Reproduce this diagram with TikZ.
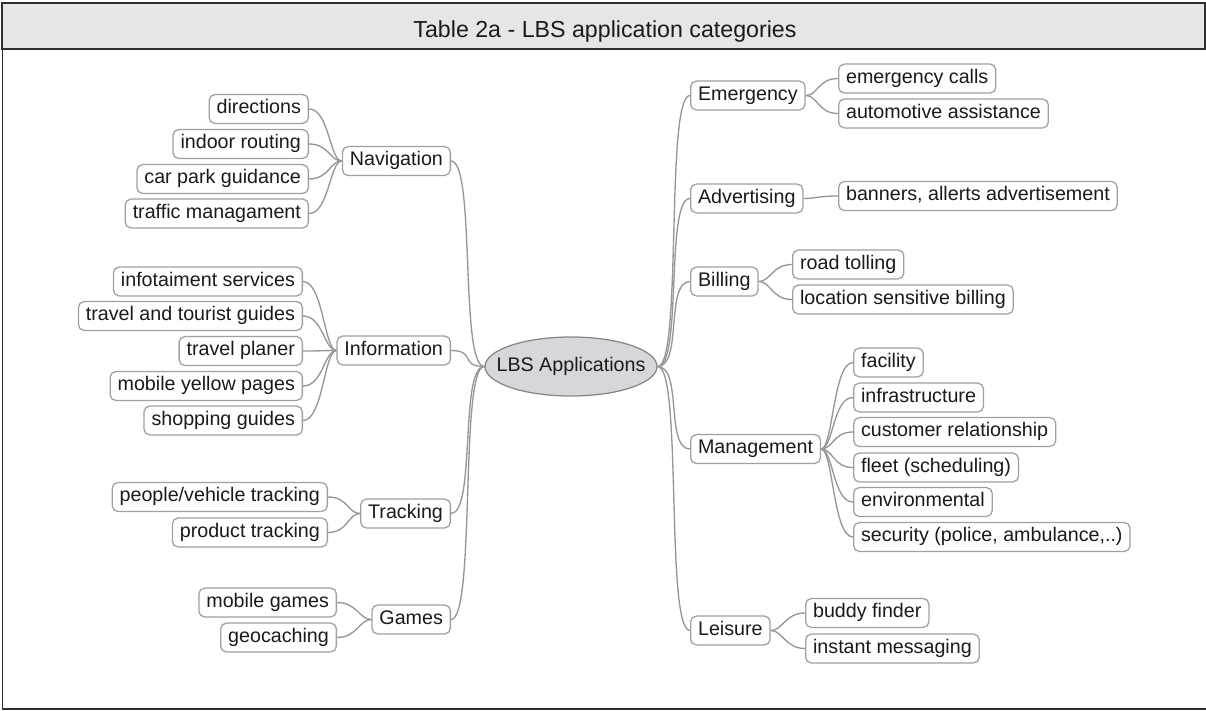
\documentclass[tikz,border=0pt]{standalone}
\usepackage{fontspec}
\setmainfont{Liberation Sans}
\usepackage{xcolor}
\usepackage{tikz}
\usetikzlibrary{positioning,shapes.geometric}

\definecolor{edgegray}{HTML}{969696}
\definecolor{boxgray}{HTML}{A0A0A0}
\definecolor{headfill}{HTML}{E6E6E6}
\definecolor{rootfill}{HTML}{D9D6DB}
\definecolor{inkgray}{HTML}{1A1A1A}
\definecolor{framegray}{HTML}{303030}

\begin{document}
\begin{tikzpicture}[x=0.025cm, y=-0.025cm,
		topic/.style={draw=boxgray, line width=0.9pt, rounded corners=4pt, fill=white, text=inkgray,
			font=\fontsize{14}{16}\selectfont, inner xsep=5.3pt, inner ysep=0pt,
			minimum height=20.5pt, text height=10pt, text depth=3.6pt},
		leftleaf/.style={topic, anchor=east},
		rightleaf/.style={topic, anchor=west},
		rootnode/.style={ellipse, draw=edgegray!90!black, line width=0.9pt, fill=rootfill,
			minimum width=4.3cm, minimum height=1.475cm, inner sep=0pt},
		rootlabel/.style={text=inkgray, font=\fontsize{14}{16}\selectfont, inner sep=0pt},
		link/.style={draw=edgegray, line width=0.95pt},
		frameline/.style={draw=framegray, line width=1.1pt}]
					\useasboundingbox (0,0) rectangle (1206,711);

					% header and frame
					\draw[frameline, fill=headfill] (2,3) rectangle (1205,49);
					\node[anchor=base, inner sep=0, text=inkgray, font=\fontsize{16.5}{20}\selectfont] (title) at (605,37) {Table 2a - LBS application categories};
					\draw[frameline] (2.5,49) -- (2.5,709) -- (1206,709);

					% centre
					\node[rootnode, label={[rootlabel]center:LBS Applications}] (root) at (571,366.5) {};

					% left branches
					\node[leftleaf] (nav) at (451,161) {Navigation};
					\node[leftleaf] (info) at (451,350.5) {Information};
					\node[leftleaf] (track) at (451,513.5) {Tracking};
					\node[leftleaf] (games) at (451,619.5) {Games};

					\node[leftleaf] (dirs) at (309,109) {directions};
					\node[leftleaf] (indoor) at (309,144) {indoor routing};
					\node[leftleaf] (carpark) at (309,179) {car park guidance};
					\node[leftleaf] (traffic) at (309,213.5) {traffic managament};

					\node[leftleaf] (infotain) at (303,281.5) {infotaiment services};
					\node[leftleaf] (travel) at (303,316) {travel and tourist guides};
					\node[leftleaf] (planer) at (303,351) {travel planer};
					\node[leftleaf] (yellow) at (303,386) {mobile yellow pages};
					\node[leftleaf] (shop) at (303,420.5) {shopping guides};

					\node[leftleaf] (people) at (328,497) {people/vehicle tracking};
					\node[leftleaf] (product) at (328,532.5) {product tracking};

					\node[leftleaf] (mgames) at (337,602.5) {mobile games};
					\node[leftleaf] (geo) at (337,637.5) {geocaching};

					% right branches
					\node[rightleaf] (emerg) at (690,95.5) {Emergency};
					\node[rightleaf] (advert) at (690,198.5) {Advertising};
					\node[rightleaf] (bill) at (690,281.5) {Billing};
					\node[rightleaf] (mgmt) at (690,449) {Management};
					\node[rightleaf] (leis) at (690,630.5) {Leisure};

					\node[rightleaf] (calls) at (838,78.5) {emergency calls};
					\node[rightleaf] (auto) at (838,113.5) {automotive assistance};

					\node[rightleaf] (banners) at (838,196) {banners, allerts advertisement};

					\node[rightleaf] (tolling) at (792,264.5) {road tolling};
					\node[rightleaf] (locbill) at (792,299.5) {location sensitive billing};

					\node[rightleaf] (facil) at (853,362.5) {facility};
					\node[rightleaf] (infra) at (853,397.5) {infrastructure};
					\node[rightleaf] (crm) at (853,432) {customer relationship};
					\node[rightleaf] (fleet) at (853,467.5) {fleet (scheduling)};
					\node[rightleaf] (env) at (853,502) {environmental};
					\node[rightleaf] (secur) at (853,537) {security (police, ambulance,..)};

					\node[rightleaf] (buddy) at (805,613) {buddy finder};
					\node[rightleaf] (instant) at (805,648.5) {instant messaging};

					% links
					\foreach \m in {nav,info,track,games}
						\draw[link] (root.west) .. controls +(-25,0) and +(25,0) .. (\m.east);
					\foreach \m in {emerg,advert,bill,mgmt,leis}
						\draw[link] (root.east) .. controls +(25,0) and +(-25,0) .. (\m.west);

					\foreach \c in {dirs,indoor,carpark,traffic}
						\draw[link] (\c.east) .. controls +(20,0) and +(-12,0) .. (nav.west);
					\foreach \c in {infotain,travel,planer,yellow,shop}
						\draw[link] (\c.east) .. controls +(20,0) and +(-12,0) .. (info.west);
					\foreach \c in {people,product}
						\draw[link] (\c.east) .. controls +(20,0) and +(-12,0) .. (track.west);
					\foreach \c in {mgames,geo}
						\draw[link] (\c.east) .. controls +(20,0) and +(-12,0) .. (games.west);

					\foreach \c in {calls,auto}
						\draw[link] (emerg.east) .. controls +(12,0) and +(-20,0) .. (\c.west);
					\draw[link] (advert.east) .. controls +(12,0) and +(-20,0) .. (banners.west);
					\foreach \c in {tolling,locbill}
						\draw[link] (bill.east) .. controls +(12,0) and +(-20,0) .. (\c.west);
					\foreach \c in {facil,infra,crm,fleet,env,secur}
						\draw[link] (mgmt.east) .. controls +(12,0) and +(-20,0) .. (\c.west);
					\foreach \c in {buddy,instant}
						\draw[link] (leis.east) .. controls +(12,0) and +(-20,0) .. (\c.west);
				\end{tikzpicture}
\end{document}
